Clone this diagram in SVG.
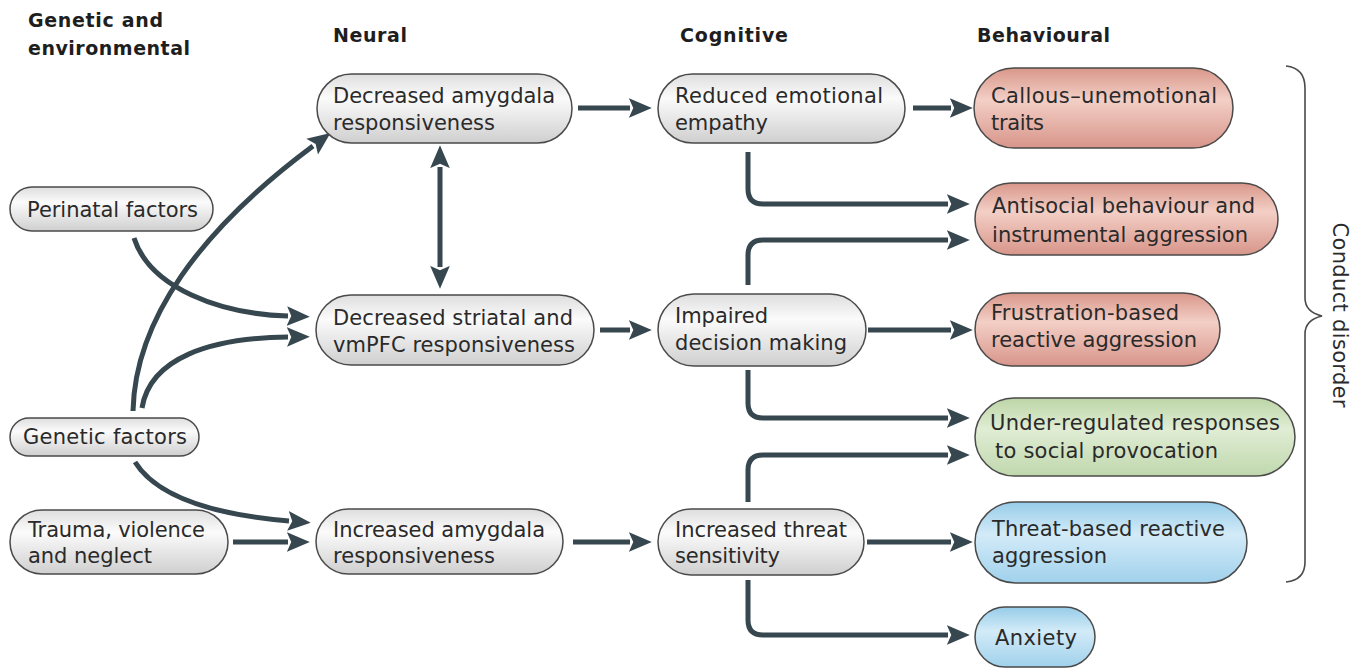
<svg xmlns="http://www.w3.org/2000/svg" width="1366" height="668" viewBox="0 0 1366 668">
<style>
.hdr{font-family:"DejaVu Sans",sans-serif;font-weight:bold;font-size:19px;fill:#1e1e1e}
.t{font-family:"DejaVu Sans",sans-serif;font-size:21px;fill:#2a2a2a}
.box{stroke:#4a4a4a;stroke-width:1.5}
.gray{fill:url(#gGray)}
.red{fill:url(#gRed)}
.green{fill:url(#gGreen)}
.blue{fill:url(#gBlue)}
.c{fill:none;stroke:#37474f;stroke-width:5;marker-end:url(#ah)}
.brace{fill:none;stroke:#4a4a4a;stroke-width:1.6}
</style>
<defs>
<linearGradient id="gGray" x1="0" y1="0" x2="0" y2="1">
<stop offset="0" stop-color="#dedede"/><stop offset="0.35" stop-color="#fbfbfb"/><stop offset="1" stop-color="#cfcfcf"/>
</linearGradient>
<linearGradient id="gRed" x1="0" y1="0" x2="0" y2="1">
<stop offset="0" stop-color="#d9978a"/><stop offset="0.4" stop-color="#f3cfc6"/><stop offset="1" stop-color="#d8958a"/>
</linearGradient>
<linearGradient id="gGreen" x1="0" y1="0" x2="0" y2="1">
<stop offset="0" stop-color="#bcd5a6"/><stop offset="0.4" stop-color="#e0edd4"/><stop offset="1" stop-color="#c0d8ad"/>
</linearGradient>
<linearGradient id="gBlue" x1="0" y1="0" x2="0" y2="1">
<stop offset="0" stop-color="#97cce8"/><stop offset="0.4" stop-color="#d3ebf8"/><stop offset="1" stop-color="#a0d1ec"/>
</linearGradient>
<marker id="ah" markerUnits="userSpaceOnUse" markerWidth="24" markerHeight="22" refX="1" refY="10" orient="auto-start-reverse" viewBox="0 0 22 20">
<path d="M0,1 L21,10 L0,19 L4,10 Z" fill="#37474f"/>
</marker>
</defs>

<g id="headers">
<text class="hdr" x="28" y="27" textLength="135">Genetic and</text>
<text class="hdr" x="28" y="55" textLength="162">environmental</text>
<text class="hdr" x="333" y="42" textLength="74">Neural</text>
<text class="hdr" x="680" y="42" textLength="108">Cognitive</text>
<text class="hdr" x="977" y="42" textLength="133">Behavioural</text>
</g>

<g id="connectors">
<path class="c" d="M134,238 C150,288 220,314 288,316"/>
<path class="c" d="M133,411 C135,320 200,230 313,146"/>
<path class="c" d="M142,408 C150,358 210,338 288,337"/>
<path class="c" d="M135,462 C160,502 230,516 289,521"/>
<path class="c" d="M233,542 H288"/>
<path class="c" d="M440,167 V267" marker-start="url(#ah)"/>
<path class="c" d="M578,108 H630"/>
<path class="c" d="M600,330 H630"/>
<path class="c" d="M573,542 H630"/>
<path class="c" d="M913,108 H951"/>
<path class="c" d="M868,330 H951"/>
<path class="c" d="M867,542 H951"/>
<path class="c" d="M748,152 V189 Q748,204 763,204 H948"/>
<path class="c" d="M748,285 V255 Q748,240 763,240 H948"/>
<path class="c" d="M748,370 V403 Q748,418 763,418 H948"/>
<path class="c" d="M748,502 V470 Q748,455 763,455 H948"/>
<path class="c" d="M748,580 V620 Q748,635 763,635 H948"/>
</g>

<g id="n_perinatal"><rect class="box gray" x="10" y="187" width="203" height="44" rx="22"/><text class="t" x="27" y="217" textLength="171">Perinatal factors</text></g>
<g id="n_genetic"><rect class="box gray" x="10" y="418" width="189" height="38" rx="19"/><text class="t" x="23" y="444" textLength="164">Genetic factors</text></g>
<g id="n_trauma"><rect class="box gray" x="10" y="510" width="218" height="64" rx="32"/><text class="t" x="28" y="537" textLength="177">Trauma, violence</text><text class="t" x="28" y="563" textLength="124">and neglect</text></g>

<g id="n_dec_amygdala"><rect class="box gray" x="317" y="74" width="255" height="69" rx="34.5"/><text class="t" x="333" y="103" textLength="222">Decreased amygdala</text><text class="t" x="333" y="130" textLength="162">responsiveness</text></g>
<g id="n_dec_striatal"><rect class="box gray" x="316" y="295" width="278" height="70" rx="35"/><text class="t" x="333" y="325" textLength="240">Decreased striatal and</text><text class="t" x="333" y="352" textLength="242">vmPFC responsiveness</text></g>
<g id="n_inc_amygdala"><rect class="box gray" x="316" y="509" width="247" height="65" rx="32.5"/><text class="t" x="333" y="537" textLength="212">Increased amygdala</text><text class="t" x="333" y="563" textLength="162">responsiveness</text></g>

<g id="n_empathy"><rect class="box gray" x="658" y="74" width="247" height="69" rx="34.5"/><text class="t" x="675" y="103" textLength="208">Reduced emotional</text><text class="t" x="675" y="130" textLength="93">empathy</text></g>
<g id="n_decision"><rect class="box gray" x="658" y="294" width="208" height="72" rx="36"/><text class="t" x="675" y="323" textLength="93">Impaired</text><text class="t" x="675" y="350" textLength="172">decision making</text></g>
<g id="n_threat"><rect class="box gray" x="658" y="509" width="206" height="66" rx="33"/><text class="t" x="675" y="537" textLength="172">Increased threat</text><text class="t" x="675" y="563" textLength="105">sensitivity</text></g>

<g id="n_callous"><rect class="box red" x="974" y="68" width="259" height="80" rx="40"/><text class="t" x="991" y="103" textLength="226">Callous–unemotional</text><text class="t" x="991" y="130" textLength="53">traits</text></g>
<g id="n_antisocial"><rect class="box red" x="975" y="183" width="303" height="72" rx="36"/><text class="t" x="992" y="213" textLength="263">Antisocial behaviour and</text><text class="t" x="992" y="242" textLength="256">instrumental aggression</text></g>
<g id="n_frustration"><rect class="box red" x="975" y="293" width="245" height="73" rx="36.5"/><text class="t" x="991" y="320" textLength="188">Frustration-based</text><text class="t" x="991" y="347" textLength="206">reactive aggression</text></g>
<g id="n_underregulated"><rect class="box green" x="975" y="398" width="320" height="78" rx="39"/><text class="t" x="990" y="430" textLength="290">Under-regulated responses</text><text class="t" x="995" y="458" textLength="223">to social provocation</text></g>
<g id="n_threatbased"><rect class="box blue" x="975" y="502" width="272" height="81" rx="40.5"/><text class="t" x="992" y="536" textLength="233">Threat-based reactive</text><text class="t" x="992" y="563" textLength="115">aggression</text></g>
<g id="n_anxiety"><rect class="box blue" x="975" y="607" width="120" height="60" rx="30"/><text class="t" x="995" y="645" textLength="82">Anxiety</text></g>

<g id="conduct_disorder">
<path class="brace" d="M1286,66 Q1305,68 1305,88 V298 Q1305,312 1322,316 Q1305,320 1305,334 V562 Q1305,580 1286,582"/>
<text class="t" transform="translate(1333,315) rotate(90)" text-anchor="middle" textLength="185">Conduct disorder</text>
</g>
</svg>
